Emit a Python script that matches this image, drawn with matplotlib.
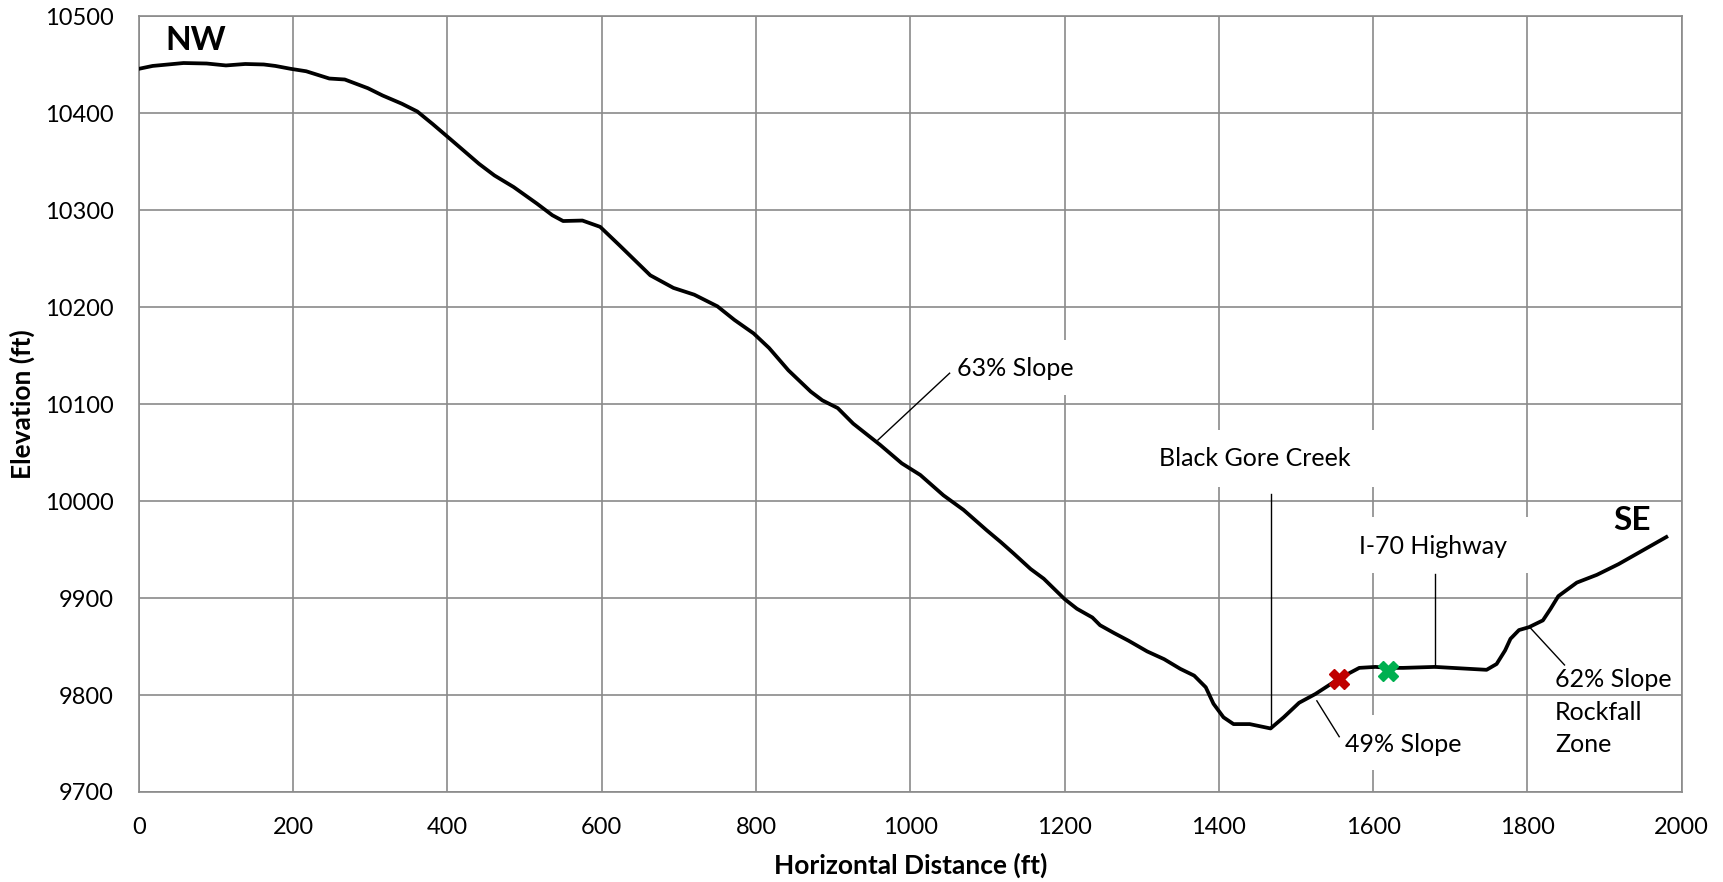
import matplotlib.pyplot as plt
from matplotlib.patches import Rectangle

plt.rcParams["font.family"] = ["Lato", "DejaVu Sans"]

# Ground profile, NW -> SE
distance_ft = [0, 18, 58, 88, 113, 138, 162, 177, 197, 217,
               247, 267, 297, 316, 341, 361, 381, 406, 441, 461,
               486, 516, 536, 550, 575, 598, 623, 663, 693, 720,
               750, 772, 797, 817, 842, 871, 886, 906, 926, 961,
               989, 1013, 1043, 1069, 1099, 1117, 1134, 1156, 1173, 1200,
               1216, 1236, 1246, 1264, 1283, 1307, 1329, 1350, 1368, 1383,
               1393, 1406, 1419, 1440, 1467, 1484, 1504, 1525, 1556, 1582,
               1603, 1619, 1639, 1680, 1747, 1760, 1771, 1778, 1789, 1802,
               1820, 1830, 1840, 1864, 1890, 1918, 1949, 1980]
elevation_ft = [10446, 10449, 10452, 10451.5, 10449.5, 10451, 10450.5, 10449, 10446, 10443.5,
                10436, 10435, 10426, 10418.5, 10410, 10402, 10389, 10372, 10348, 10336,
                10324, 10307, 10295, 10289, 10289.5, 10283, 10264, 10233, 10220, 10213,
                10201, 10187, 10173, 10158, 10135, 10113, 10104, 10096, 10080, 10058,
                10039, 10027, 10006, 9991, 9970, 9958, 9946, 9930, 9920, 9899,
                9889, 9880, 9872, 9864, 9856, 9845, 9837, 9827, 9820, 9808,
                9791, 9777, 9770, 9770, 9765.5, 9777, 9792, 9801, 9817, 9828,
                9829, 9828, 9828, 9829, 9826, 9832, 9846, 9858, 9867, 9870,
                9877, 9889, 9902, 9916, 9924, 9935, 9949, 9963]

# Point markers on the profile
red_pt = (1556, 9817)
green_pt = (1619, 9825)

x_ticks = list(range(0, 2001, 200))
y_ticks = list(range(9700, 10501, 100))

GRID = "#8a8a8a"
FS = 17
FS_NOTE = 18

fig = plt.figure(figsize=(17.24, 8.82), dpi=100)
ax = fig.add_axes([0.0805, 0.1021, 0.895, 0.8792])

ax.set_xlim(0, 2000)
ax.set_ylim(9700, 10500)
ax.set_xticks(x_ticks)
ax.set_yticks(y_ticks)
ax.grid(True, color=GRID, linewidth=1.2)
ax.set_axisbelow(True)
for sp in ax.spines.values():
    sp.set_color(GRID)
    sp.set_linewidth(1.2)
ax.tick_params(length=0, labelsize=FS, pad=18)

# white label backgrounds that hide the grid
boxes = [
    (1289, 10015, 333, 58),   # Black Gore Creek
    (1551, 9926, 265, 58),    # I-70 Highway
    (1545, 9723, 180, 56),    # 49% Slope
    (1045, 10109, 175, 57),   # 63% Slope
]
for bx, by, bw, bh in boxes:
    ax.add_patch(Rectangle((bx, by), bw, bh, facecolor="white",
                           edgecolor="none", zorder=1))

ax.plot(distance_ft, elevation_ft, color="black", linewidth=2.7,
        solid_joinstyle="round", zorder=3)

ax.plot(*red_pt, marker="X", markersize=15, color="#C00000",
        markeredgecolor="#C00000", zorder=4)
ax.plot(*green_pt, marker="X", markersize=15, color="#00B050",
        markeredgecolor="#00B050", zorder=4)

# leader lines and labels
leaders = [
    ((1051, 958), (10132, 10063)),
    ((1467, 1467), (10007, 9765.5)),
    ((1680, 1680), (9925, 9829)),
    ((1527, 1556), (9794, 9757)),
    ((1804, 1848), (9869, 9831)),
]
for lx, ly in leaders:
    ax.plot(lx, ly, color="black", linewidth=1.0, zorder=2)

ax.text(1060, 10137, "63% Slope", fontsize=FS_NOTE, va="center", ha="left", zorder=5)
ax.text(1446, 10044, "Black Gore Creek", fontsize=FS_NOTE, va="center", ha="center", zorder=5)
ax.text(1677, 9953, "I-70 Highway", fontsize=FS_NOTE, va="center", ha="center", zorder=5)
ax.text(1563, 9749, "49% Slope", fontsize=FS_NOTE, va="center", ha="left", zorder=5)
ax.text(1836, 9782, "62% Slope\nRockfall\nZone", fontsize=FS_NOTE, va="center",
        ha="left", linespacing=1.5, zorder=5)

ax.text(74, 10475, "NW", fontsize=24, fontweight="bold", ha="center", va="center", zorder=5)
ax.text(1936, 9980, "SE", fontsize=24, fontweight="bold", ha="center", va="center", zorder=5)

ax.set_xlabel("Horizontal Distance (ft)", fontsize=19, fontweight="bold")
ax.set_ylabel("Elevation (ft)", fontsize=19, fontweight="bold")
ax.xaxis.label.set_va("center")
ax.yaxis.label.set_va("center")
ax.xaxis.set_label_coords(0.5, -0.094)
ax.yaxis.set_label_coords(-0.0755, 0.5)

fig.savefig("out.png", dpi=100)
